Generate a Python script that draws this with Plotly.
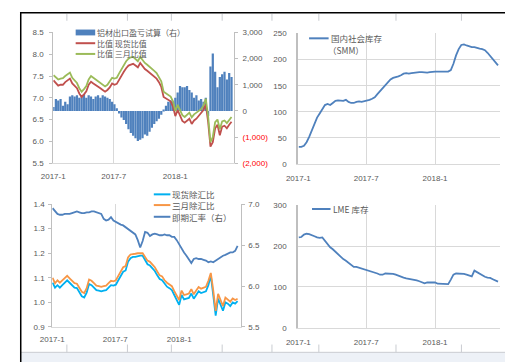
import pandas as pd
import plotly.graph_objects as go

W, H = 513, 362

# ---------------- data ----------------
week_start = pd.date_range("2017-01-02", periods=77, freq="7D")
tick_dates = ["2017-01-01", "2017-07-01", "2018-01-01"]
tick_labels = ["2017-1", "2017-7", "2018-1"]

profit_bars = [150, 450, 400, 450, 200, 350, 250, 550, 600, 550, 600, 500, 550, 650, 500, 600,
               550, 450, 550, 600, 500, 600, 550, 500, 450, 350, 250, 100, -100, -250, -350, -500,
               -700, -850, -950, -1050, -1150, -1100, -1050, -900, -950, -800, -650, -500, -400,
               -300, -150, 50, 200, 350, 400, 350, 500, 700, 950, 900, 900, 950, 800, 700, 500,
               600, 400, 450, 350, 500, -200, 1700, 2200, 1500, 900, 1300, 1400, 1500, 1200, 1450, 1300]

ratio_spot = [7.40, 7.35, 7.28, 7.30, 7.30, 7.36, 7.40, 7.44, 7.33, 7.28, 7.22, 7.10, 7.02, 7.08,
              7.15, 7.30, 7.37, 7.33, 7.30, 7.26, 7.22, 7.18, 7.14, 7.18, 7.24, 7.33, 7.30, 7.32,
              7.42, 7.50, 7.60, 7.68, 7.74, 7.76, 7.78, 7.74, 7.70, 7.80, 7.72, 7.66, 7.62, 7.58,
              7.54, 7.48, 7.44, 7.36, 7.25, 7.02, 6.98, 6.94, 6.92, 6.80, 6.58, 6.72, 6.60, 6.47,
              6.43, 6.48, 6.52, 6.40, 6.48, 6.52, 6.58, 6.64, 6.72, 6.85, 6.45, 5.88, 5.98, 6.30,
              6.38, 6.14, 6.34, 6.36, 6.30, 6.38, 6.45]

ratio_3m = [7.52, 7.48, 7.42, 7.44, 7.45, 7.50, 7.55, 7.58, 7.46, 7.40, 7.34, 7.22, 7.14, 7.20,
            7.27, 7.42, 7.50, 7.46, 7.42, 7.38, 7.34, 7.30, 7.26, 7.30, 7.37, 7.46, 7.44, 7.46,
            7.56, 7.66, 7.76, 7.84, 7.90, 7.93, 7.94, 7.88, 7.84, 7.94, 7.86, 7.80, 7.76, 7.72,
            7.68, 7.62, 7.57, 7.48, 7.38, 7.14, 7.10, 7.05, 7.03, 6.92, 6.70, 6.84, 6.72, 6.60,
            6.56, 6.62, 6.66, 6.55, 6.62, 6.66, 6.70, 6.74, 6.82, 6.98, 6.58, 5.98, 6.10, 6.44,
            6.50, 6.28, 6.46, 6.48, 6.42, 6.50, 6.56]

smm_stock = [33, 33, 35, 42, 52, 65, 80, 89, 97, 105, 113, 115, 113, 117, 121, 122, 121, 121, 123,
             119, 117, 117, 119, 120, 119, 120, 122, 123, 125, 128, 134, 140, 146, 152, 158, 162,
             165, 166, 168, 170, 173, 174, 173, 174, 175, 175, 176, 176, 175, 175, 176, 177, 177,
             177, 177, 176, 177, 177, 180, 192, 208, 220, 228, 229, 227, 225, 224, 224, 222, 221,
             220, 218, 213, 207, 201, 195, 189]

spot_fx_ratio = [1.08, 1.06, 1.07, 1.06, 1.07, 1.08, 1.09, 1.08, 1.07, 1.06, 1.058, 1.04, 1.025,
                 1.02, 1.04, 1.075, 1.07, 1.06, 1.05, 1.048, 1.045, 1.048, 1.05, 1.06, 1.07, 1.068,
                 1.072, 1.09, 1.11, 1.125, 1.13, 1.165, 1.18, 1.185, 1.185, 1.188, 1.19, 1.19,
                 1.17, 1.155, 1.15, 1.14, 1.128, 1.11, 1.095, 1.09, 1.075, 1.064, 1.058, 1.05,
                 1.03, 1.01, 0.99, 1.03, 1.012, 1.015, 1.018, 1.036, 1.015, 1.03, 1.045, 1.038,
                 1.04, 1.045, 1.07, 1.11, 1.03, 0.946, 1.015, 0.99, 0.966, 1.0, 0.995, 0.985,
                 1.0, 0.995, 1.005]

m3_fx_ratio = [1.10, 1.078, 1.09, 1.08, 1.09, 1.098, 1.108, 1.098, 1.088, 1.078, 1.076, 1.058,
               1.043, 1.038, 1.058, 1.093, 1.088, 1.078, 1.068, 1.066, 1.063, 1.066, 1.068, 1.078,
               1.088, 1.086, 1.09, 1.108, 1.128, 1.143, 1.148, 1.183, 1.195, 1.198, 1.198, 1.2,
               1.2, 1.2, 1.185, 1.17, 1.165, 1.155, 1.143, 1.126, 1.11, 1.106, 1.09, 1.08, 1.074,
               1.066, 1.046, 1.028, 1.01, 1.048, 1.03, 1.033, 1.036, 1.054, 1.033, 1.048, 1.063,
               1.056, 1.058, 1.063, 1.088, 1.12, 1.05, 0.965, 1.035, 1.01, 0.985, 1.02, 1.012,
               1.003, 1.016, 1.01, 1.015]

usdcny = [6.95, 6.92, 6.88, 6.87, 6.87, 6.88, 6.88, 6.88, 6.89, 6.90, 6.91, 6.90, 6.89, 6.89,
          6.90, 6.90, 6.91, 6.91, 6.90, 6.89, 6.88, 6.82, 6.80, 6.81, 6.84, 6.80, 6.78, 6.77,
          6.75, 6.74, 6.72, 6.70, 6.68, 6.66, 6.63, 6.56, 6.47, 6.55, 6.66, 6.65, 6.61, 6.63,
          6.64, 6.63, 6.62, 6.62, 6.63, 6.62, 6.62, 6.60, 6.60, 6.56, 6.51, 6.45, 6.41, 6.37,
          6.32, 6.28, 6.33, 6.34, 6.33, 6.33, 6.32, 6.31, 6.29, 6.30, 6.29, 6.31, 6.34, 6.36,
          6.37, 6.38, 6.40, 6.41, 6.41, 6.43, 6.49]

lme_stock = [221, 222, 228, 230, 229, 227, 224, 221, 220, 221, 213, 203, 197, 192, 186, 180, 173,
             168, 164, 159, 153, 149, 149, 147, 145, 143, 141, 140, 138, 136, 133, 130, 130, 133,
             133, 133, 132, 130, 127, 125, 123, 121, 120, 119, 117, 116, 114, 112, 109, 111, 111,
             111, 111, 108, 108, 108, 108, 107, 118, 130, 133, 133, 133, 132, 130, 128, 126, 140,
             136, 132, 127, 125, 123, 122, 119, 116, 113]

names = {
    "bar": "铝材出口盈亏试算（右）",
    "spot": "比值 现货比值",
    "m3": "比值 三月比值",
    "smm": "国内社会库存",
    "smm2": "（SMM）",
    "sfx": "现货除汇比",
    "mfx": "三月除汇比",
    "fx": "即期汇率（右）",
    "lme": "LME 库存",
}

# ---------------- styling ----------------
BLUE = "#4F81BD"
RED = "#C0504D"
GREEN = "#9BBB59"
CYAN = "#00B0F0"
ORANGE = "#F79646"
TXT = "#595959"
GRID = "#d9d9d9"
AXL = "#bfbfbf"
NUMFONT = dict(family="Liberation Sans, Arial", size=8, color=TXT)
CJK = "Noto Sans CJK SC"
LW = 1.8


def px(x):
    return x / W


def py(y):
    return 1 - y / H


fig = go.Figure()

# Panel 1
fig.add_trace(go.Bar(x=week_start, y=profit_bars, name=names["bar"], marker=dict(color=BLUE, line=dict(width=0)),
                     xaxis="x", yaxis="y", showlegend=False))
fig.add_trace(go.Scatter(x=week_start, y=ratio_spot, name=names["spot"], mode="lines",
                         line=dict(color=RED, width=LW), xaxis="x", yaxis="y2", showlegend=False))
fig.add_trace(go.Scatter(x=week_start, y=ratio_3m, name=names["m3"], mode="lines",
                         line=dict(color=GREEN, width=LW), xaxis="x", yaxis="y2", showlegend=False))
# Panel 2
fig.add_trace(go.Scatter(x=week_start, y=smm_stock, name=names["smm"], mode="lines",
                         line=dict(color=BLUE, width=LW), xaxis="x2", yaxis="y3", showlegend=False))
# Panel 3
fig.add_trace(go.Scatter(x=week_start, y=spot_fx_ratio, name=names["sfx"], mode="lines",
                         line=dict(color=CYAN, width=LW), xaxis="x3", yaxis="y4", showlegend=False))
fig.add_trace(go.Scatter(x=week_start, y=m3_fx_ratio, name=names["mfx"], mode="lines",
                         line=dict(color=ORANGE, width=LW), xaxis="x3", yaxis="y4", showlegend=False))
fig.add_trace(go.Scatter(x=week_start, y=usdcny, name=names["fx"], mode="lines",
                         line=dict(color=BLUE, width=LW), xaxis="x3", yaxis="y5", showlegend=False))
# Panel 4
fig.add_trace(go.Scatter(x=week_start, y=lme_stock, name=names["lme"], mode="lines",
                         line=dict(color=BLUE, width=LW), xaxis="x4", yaxis="y6", showlegend=False))


def xax(dom, yanchor, end, standoff):
    return dict(domain=dom, anchor=yanchor, type="date", range=["2017-01-01", end],
                tickmode="array", tickvals=tick_dates, ticktext=tick_labels,
                showgrid=True, gridcolor=GRID, gridwidth=1, showline=True, linecolor=GRID,
                ticks="", tickfont=NUMFONT, ticklabelstandoff=standoff, zeroline=False, fixedrange=True)


p1x = [px(34), px(219)]
p2x = [px(285), px(491)]
p3x = [px(33), px(226)]
p4x = [px(285), px(491)]

neg = "<span style='color:#FF0000'>%s</span>"
right_vals = [-2000, -1000, 0, 1000, 2000, 3000]
right_text = [neg % "(2,000)", neg % "(1,000)", "0", "1,000", "2,000", "3,000"]

fig.update_layout(
    width=W, height=H, autosize=False,
    margin=dict(l=0, r=0, t=0, b=0, pad=0),
    paper_bgcolor="white", plot_bgcolor="rgba(0,0,0,0)",
    bargap=0.05,
    font=dict(family=CJK, color=TXT, size=8),
    xaxis=xax(p1x, "y", "2018-06-25", 5),
    yaxis=dict(domain=[py(155), py(21)], anchor="x", side="right", range=[-2000, 3000],
               tickmode="array", tickvals=right_vals, ticktext=right_text,
               showgrid=False, zeroline=False, showline=True, linecolor=AXL,
               ticks="outside", ticklen=3, tickcolor=AXL, tickfont=NUMFONT, ticklabelstandoff=3),
    yaxis2=dict(overlaying="y", anchor="x", side="left", range=[5.5, 8.5], dtick=0.5, tick0=5.5,
                tickformat=".1f", showgrid=False, zeroline=False, showline=True, linecolor=AXL,
                ticks="outside", ticklen=3, tickcolor=AXL, tickfont=NUMFONT, ticklabelstandoff=4),
    xaxis2=xax(p2x, "y3", "2018-06-22", 6),
    yaxis3=dict(domain=[py(156), py(22)], anchor="x2", range=[0, 250], dtick=50,
                showgrid=True, gridcolor=GRID, zeroline=False, showline=True, linecolor=AXL, linewidth=2,
                ticks="", tickfont=NUMFONT, ticklabelstandoff=8),
    xaxis3=xax(p3x, "y4", "2018-06-27", 4),
    yaxis4=dict(domain=[py(323), py(197)], anchor="x3", range=[0.9, 1.4], dtick=0.1, tick0=0.9,
                tickformat=".1f", showgrid=False, zeroline=False, showline=True, linecolor=AXL,
                ticks="outside", ticklen=3, tickcolor=AXL, tickfont=NUMFONT, ticklabelstandoff=2),
    yaxis5=dict(overlaying="y4", anchor="x3", side="right", range=[5.5, 7.0], dtick=0.5, tick0=5.5,
                tickformat=".1f", showgrid=False, zeroline=False, showline=True, linecolor=AXL,
                ticks="outside", ticklen=3, tickcolor=AXL, tickfont=NUMFONT, ticklabelstandoff=2),
    xaxis4=xax(p4x, "y6", "2018-06-22", 6),
    yaxis6=dict(domain=[py(324), py(198)], anchor="x4", range=[0, 300], dtick=100,
                showgrid=True, gridcolor=GRID, zeroline=False, showline=True, linecolor=AXL, linewidth=2,
                ticks="", tickfont=NUMFONT, ticklabelstandoff=8),
)

# ---------------- legends (text + swatches) ----------------
shapes = []
annotations = []


def leg_text(x, y, text, size=8):
    annotations.append(dict(xref="paper", yref="paper", x=px(x), y=py(y), text=text, showarrow=False,
                            xanchor="left", yanchor="middle", font=dict(family=CJK, size=size, color=TXT)))


def leg_line(x0, x1, y, color):
    shapes.append(dict(type="line", xref="paper", yref="paper", x0=px(x0), x1=px(x1), y0=py(y), y1=py(y),
                       line=dict(color=color, width=2)))


shapes.append(dict(type="rect", xref="paper", yref="paper", x0=px(57), x1=px(77), y0=py(24), y1=py(18),
                   fillcolor=BLUE, line=dict(width=0)))
leg_text(77, 21, names["bar"])
leg_line(57, 77, 32, RED)
leg_text(77, 32, names["spot"])
leg_line(57, 77, 43, GREEN)
leg_text(77, 43, names["m3"])

leg_line(296, 316, 27, BLUE)
leg_text(316, 27, names["smm"], 8.5)
leg_text(313, 39, names["smm2"], 8.5)

leg_line(137, 154, 187, CYAN)
leg_text(154, 187, names["sfx"], 8.5)
leg_line(137, 154, 198, ORANGE)
leg_text(154, 198, names["mfx"], 8.5)
leg_line(137, 154, 210, BLUE)
leg_text(154, 210, names["fx"], 8.5)

leg_line(299, 318, 202, BLUE)
leg_text(318, 202, names["lme"], 8.5)

# ---------------- frame decorations ----------------
STRIP = "#edf1f7"
SEP = "#c9ccd1"
shapes.append(dict(type="rect", xref="paper", yref="paper", x0=px(1), x1=px(511), y0=py(359), y1=py(349),
                   fillcolor=STRIP, line=dict(width=0), layer="below"))
shapes.append(dict(type="rect", xref="paper", yref="paper", x0=px(505), x1=px(511), y0=py(359), y1=py(1),
                   fillcolor=STRIP, line=dict(width=0), layer="below"))
shapes.append(dict(type="line", xref="paper", yref="paper", x0=px(1), x1=px(505), y0=py(349), y1=py(349),
                   line=dict(color=SEP, width=1)))
shapes.append(dict(type="line", xref="paper", yref="paper", x0=px(505), x1=px(505), y0=py(1), y1=py(349),
                   line=dict(color=SEP, width=1)))
for xv in [48, 110, 155, 207, 258, 306, 385, 452]:
    shapes.append(dict(type="line", xref="paper", yref="paper", x0=px(xv), x1=px(xv), y0=py(2), y1=py(9),
                       line=dict(color=SEP, width=1)))
    shapes.append(dict(type="line", xref="paper", yref="paper", x0=px(xv), x1=px(xv), y0=py(341), y1=py(349),
                       line=dict(color=SEP, width=1)))
for yv in [19, 33, 48, 63, 93, 127, 183, 197, 208, 220, 233, 248, 263, 278, 293, 308, 322, 335]:
    shapes.append(dict(type="line", xref="paper", yref="paper", x0=px(502), x1=px(505), y0=py(yv), y1=py(yv),
                       line=dict(color=SEP, width=1)))
shapes.append(dict(type="rect", xref="paper", yref="paper", x0=px(0.75), x1=px(511.5), y0=py(360), y1=py(0.75),
                   line=dict(color="black", width=1.5), fillcolor="rgba(0,0,0,0)"))

fig.update_layout(shapes=shapes, annotations=annotations)

fig.write_html("out.html")
